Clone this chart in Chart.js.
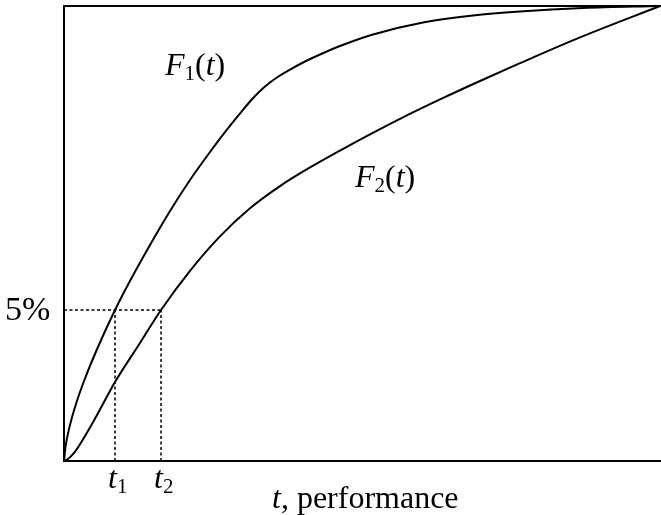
<!DOCTYPE html>
<html>
<head>
<meta charset="utf-8">
<script src="https://cdn.jsdelivr.net/npm/chart.js@4.4.0/dist/chart.umd.min.js"></script>
<style>
  body { margin: 0; background: #fff; }
</style>
</head>
<body>
<canvas id="cdfChart" width="661" height="515"></canvas>
<script>
// curve F1(t) (t on 0..100, F on 0..1)
const f1T = [0, 0.25, 1.01, 2.01, 3.36, 5.70, 8.56, 11.07, 14.43, 17.79, 21.14, 24.50, 27.30, 29.53, 31.21, 32.89, 34.56, 36.24, 37.92, 40.44, 42.95, 46.31, 51.85, 60.23, 68.62, 76.51, 87.08, 100];
const f1F = [0, 0.0308, 0.0791, 0.1253, 0.1758, 0.2505, 0.3319, 0.3956, 0.4747, 0.5495, 0.6176, 0.6791, 0.7275, 0.7637, 0.7901, 0.8132, 0.8319, 0.8473, 0.8604, 0.8780, 0.8934, 0.9121, 0.9374, 0.9637, 0.9791, 0.9879, 0.9956, 1.0];

// curve F2(t)
const f2T = [0, 0.67, 1.68, 3.02, 4.70, 6.54, 8.56, 12.42, 16.28, 21.14, 26.17, 31.21, 36.24, 41.28, 46.31, 51.34, 56.38, 63.09, 69.80, 76.51, 86.58, 100];
const f2F = [0, 0.0044, 0.0176, 0.0440, 0.0813, 0.1253, 0.1736, 0.2527, 0.3319, 0.4180, 0.4938, 0.5554, 0.6042, 0.6451, 0.6824, 0.7180, 0.7521, 0.7947, 0.8352, 0.8743, 0.9310, 1.0];

// 5% level and the two crossing times
const level = 0.332;
const tMarks = [8.56, 16.28];
const tNames = ['1', '2'];

function pts(xs, ys) {
    return xs.map((x, i) => ({ x: x, y: ys[i] }));
}

const serif = '"Liberation Serif", "DejaVu Serif", serif';

// axis frame + text labels
const framePlugin = {
    id: 'frame',
    afterDraw(chart) {
        const c = chart.ctx;
        const a = chart.chartArea;
        const xs = chart.scales.x;
        const ys = chart.scales.y;
        c.save();
        c.strokeStyle = '#000';
        c.lineWidth = 2;
        c.beginPath();
        c.moveTo(a.right + 1, a.top);
        c.lineTo(a.left, a.top);
        c.lineTo(a.left, a.bottom);
        c.lineTo(a.right + 1, a.bottom);
        c.stroke();

        c.fillStyle = '#000';
        c.textBaseline = 'alphabetic';

        function sub(main, s, x, y) {
            c.font = 'italic 32px ' + serif;
            c.fillText(main, x, y);
            let w = c.measureText(main).width;
            c.font = '21px ' + serif;
            c.fillText(s, x + w, y + 5);
            return x + w + c.measureText(s).width;
        }
        function fn(s, x, y) {
            let nx = sub('F', s, x, y);
            c.font = '32px ' + serif;
            c.fillText('(', nx, y);
            nx += c.measureText('(').width;
            c.font = 'italic 32px ' + serif;
            c.fillText('t', nx, y);
            nx += c.measureText('t').width;
            c.font = '32px ' + serif;
            c.fillText(')', nx, y);
        }

        fn('1', 165, 75);
        fn('2', 355, 187);

        // 5% label
        c.font = '34px ' + serif;
        c.fillText('5%', 5, ys.getPixelForValue(level) + 10);

        // t1, t2
        tMarks.forEach((t, i) => {
            sub('t', tNames[i], xs.getPixelForValue(t) - 7, 488);
        });

        // axis title
        c.font = 'italic 32px ' + serif;
        c.fillText('t', 272, 508);
        let w = c.measureText('t').width;
        c.font = '32px ' + serif;
        c.fillText(', performance', 272 + w, 508);
        c.restore();
    }
};

const dotted = { borderColor: '#000', borderWidth: 1.5, borderDash: [3, 2.5], pointRadius: 0, tension: 0, clip: false };

const data = {
    datasets: [
        { data: pts(f1T, f1F), borderColor: '#000', borderWidth: 2, pointRadius: 0, cubicInterpolationMode: 'monotone', clip: false },
        { data: pts(f2T, f2F), borderColor: '#000', borderWidth: 2, pointRadius: 0, cubicInterpolationMode: 'monotone', clip: false },
        Object.assign({ data: [{ x: 0, y: level }, { x: tMarks[1], y: level }] }, dotted),
        Object.assign({ data: [{ x: tMarks[0], y: 0 }, { x: tMarks[0], y: level }] }, dotted),
        Object.assign({ data: [{ x: tMarks[1], y: 0 }, { x: tMarks[1], y: level }] }, dotted)
    ]
};

new Chart(document.getElementById('cdfChart').getContext('2d'), {
    type: 'line',
    data: data,
    options: {
        responsive: false,
        animation: false,
        devicePixelRatio: 1,
        layout: { padding: { left: 64, right: 1, top: 6, bottom: 54 } },
        plugins: { legend: { display: false }, tooltip: { enabled: false } },
        scales: {
            x: { type: 'linear', min: 0, max: 100, display: false },
            y: { min: 0, max: 1, display: false }
        }
    },
    plugins: [framePlugin]
});
</script>
</body>
</html>
